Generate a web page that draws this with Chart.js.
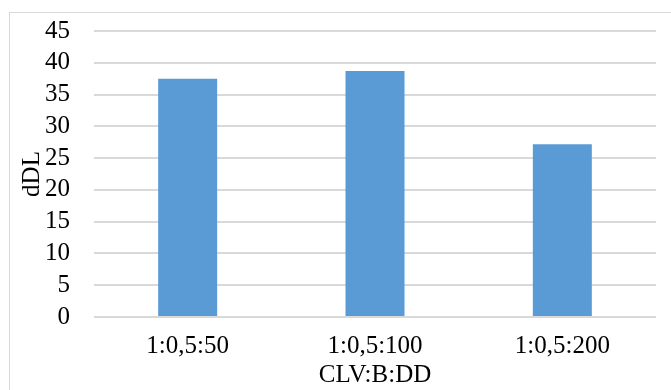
<!DOCTYPE html>
<html>
<head>
<meta charset="utf-8">
<script src="https://cdn.jsdelivr.net/npm/chart.js@4/dist/chart.umd.min.js"></script>
<style>
  html, body { margin: 0; padding: 0; background: #fff; overflow: hidden; }
  #wrap { position: relative; width: 671px; height: 390px; }
  #frame { position: absolute; left: 9px; top: 12px; width: 720px; height: 420px;
           border: 1px solid #d9d9d9; box-sizing: border-box; pointer-events: none; }
  canvas { position: absolute; left: 0; top: 0; }
</style>
</head>
<body>
<div id="wrap">
  <div id="frame"></div>
  <canvas id="c" width="671" height="390"></canvas>
</div>
<script>
// Ratios CLV:B:DD and the measured dDL for each
const categories = ['1:0,5:50', '1:0,5:100', '1:0,5:200'];
const dDL = [37.5, 38.7, 27.2];
const yMin = 0, yMax = 45, yStep = 5;

const serif = '"Liberation Serif", "Times New Roman", serif';

new Chart(document.getElementById('c'), {
  type: 'bar',
  data: {
    labels: categories,
    datasets: [{
      data: dDL,
      backgroundColor: '#5b9bd5',
      borderWidth: 0,
      categoryPercentage: 1,
      barPercentage: 0.315
    }]
  },
  options: {
    responsive: false,
    animation: false,
    layout: { padding: { left: 9, right: 15, top: 31, bottom: 0 } },
    plugins: { legend: { display: false }, tooltip: { enabled: false } },
    scales: {
      x: {
        grid: { display: false },
        border: { display: false },
        ticks: { color: '#000', font: { family: serif, size: 25 }, padding: 6, maxRotation: 0, autoSkip: false },
        title: {
          display: true, text: 'CLV:B:DD', color: '#000',
          font: { family: serif, size: 25 }, padding: { top: 1, bottom: 0 }
        },
        afterFit: axis => { axis.height = 73; }
      },
      y: {
        min: yMin, max: yMax,
        grid: { color: '#d9d9d9', lineWidth: 2, drawTicks: false },
        border: { display: false },
        ticks: { color: '#000', font: { family: serif, size: 25 }, padding: 24, stepSize: yStep, autoSkip: false },
        title: {
          display: true, text: 'dDL', color: '#000',
          font: { family: serif, size: 25 }, padding: { top: 8, bottom: 0 }
        },
        afterFit: axis => { axis.width = 85; axis.paddingTop = 0; }
      }
    }
  }
});
</script>
</body>
</html>
